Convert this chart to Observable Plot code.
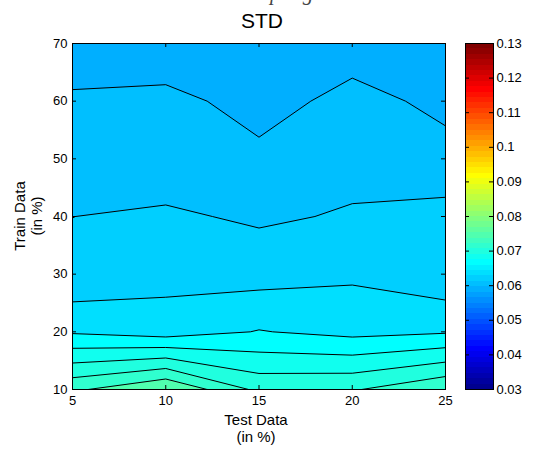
<!DOCTYPE html>
<html><head><meta charset="utf-8">
<script src="https://cdn.jsdelivr.net/npm/d3@7"></script>
<script src="https://cdn.jsdelivr.net/npm/@observablehq/plot@0.6"></script>
<style>
body{margin:0;background:#fff;}
#wrap{position:relative;width:537px;height:449px;overflow:hidden;font-family:"Liberation Sans",Arial,sans-serif;color:#000;}
#wrap svg{position:absolute;top:0;}
.lbl{position:absolute;white-space:nowrap;text-align:center;}
</style></head><body>
<div id="wrap">
  <div class="lbl" style="left:86px;top:-19px;width:300px;font:italic 21px 'Liberation Serif',serif;color:#444;">Random Sampling</div>
  <div class="lbl" style="left:162px;top:10px;width:200px;font-size:21px;line-height:21px;">STD</div>
  <div class="lbl" style="left:156px;top:411px;width:200px;font-size:15px;line-height:17px;">Test Data<br>(in %)</div>
  <div class="lbl" style="left:-72px;top:199px;width:200px;font-size:15px;line-height:17px;transform:rotate(-90deg);">Train Data<br>(in %)</div>
</div>
<script>
// Test data (in %) along x, train data (in %) along y
const testData = [5, 10, 15, 20, 25];
const trainData = [70, 60, 50, 40, 30, 20, 10];
// STD values, one array per train-data level (columns follow testData)
const std70 = [0.0592, 0.0590, 0.0590, 0.0594, 0.0591];
const std60 = [0.0602, 0.0604, 0.0595, 0.0604, 0.0597];
const std50 = [0.0611, 0.0608, 0.0603, 0.0613, 0.0604];
const std40 = [0.06199, 0.0623, 0.0617, 0.0622, 0.0628];
const std30 = [0.06237, 0.06332, 0.0632, 0.06367, 0.06253];
const std20 = [0.06576, 0.06502, 0.0661, 0.06542, 0.0658];
const std10 = [0.0736, 0.0760, 0.0715, 0.0718, 0.0738];
// contour levels (first = data minimum, fills the lowest region)
const levels = [0.059, 0.060, 0.062, 0.064, 0.066, 0.068, 0.070, 0.072, 0.074];
// tick labels
const xTicks = [5, 10, 15, 20, 25];
const yTicks = [10, 20, 30, 40, 50, 60, 70];
const cTicks = [0.03, 0.04, 0.05, 0.06, 0.07, 0.08, 0.09, 0.10, 0.11, 0.12, 0.13];
const cRange = [0.03, 0.13];

// MATLAB jet(64) colormap
function jet64(t) {
  const i = Math.max(1, Math.min(64, Math.floor(t * 64) + 1));
  const r = i < 25 ? 0 : i <= 40 ? (i - 24) / 16 : i <= 56 ? 1 : (72 - i) / 16;
  const g = i < 9 ? 0 : i <= 24 ? (i - 8) / 16 : i <= 40 ? 1 : i <= 55 ? (56 - i) / 16 : 0;
  const b = i <= 8 ? (i + 8) / 16 : i <= 24 ? 1 : i <= 39 ? (40 - i) / 16 : 0;
  return d3.rgb(r * 255, g * 255, b * 255).formatHex();
}
const colorScale = {type: "linear", domain: cRange, interpolate: jet64};

const rows = [std70, std60, std50, std40, std30, std20, std10];
const grid = rows.flat();
const dx = (testData[1] - testData[0]) / 2;
const dy = (trainData[0] - trainData[1]) / 2;

const font = {fontFamily: "'Liberation Sans', Arial, sans-serif", fontSize: "13px", color: "#000", background: "transparent"};

const main = Plot.plot({
  width: 537, height: 449,
  marginLeft: 72, marginRight: 92, marginTop: 43, marginBottom: 60,
  style: font,
  x: {domain: [testData[0], testData[testData.length - 1]], ticks: xTicks, tickSize: 0, tickPadding: 6, label: null},
  y: {domain: [trainData[trainData.length - 1], trainData[0]], ticks: yTicks, tickSize: 0, tickPadding: 5, label: null},
  color: colorScale,
  marks: [
    Plot.contour(grid, {
      width: testData.length, height: trainData.length,
      x1: testData[0] - dx, x2: testData[testData.length - 1] + dx,
      y1: trainData[0] + dy, y2: trainData[trainData.length - 1] - dy,
      fill: Plot.identity, stroke: "black", strokeWidth: 1,
      thresholds: levels, clip: true
    }),
    Plot.tickX(xTicks, {x: d => d, stroke: "black", insetTop: 342}),
    Plot.tickX(xTicks, {x: d => d, stroke: "black", insetBottom: 342}),
    Plot.tickY(yTicks, {y: d => d, stroke: "black", insetRight: 369}),
    Plot.tickY(yTicks, {y: d => d, stroke: "black", insetLeft: 369}),
    Plot.frame({stroke: "black"})
  ]
});
main.style.left = "0px";
document.getElementById("wrap").appendChild(main);

// colorbar: one rect per colormap entry
const entries = d3.range(64);
const step = (cRange[1] - cRange[0]) / 64;
const cbar = Plot.plot({
  width: 72, height: 449,
  marginLeft: 0, marginRight: 44, marginTop: 43, marginBottom: 60,
  style: font,
  x: {domain: [0, 1], axis: null},
  y: {domain: cRange, ticks: cTicks, tickFormat: d => String(+d.toFixed(2)), tickSize: 0, tickPadding: 3, axis: "right", label: null},
  color: colorScale,
  marks: [
    Plot.rect(entries, {x1: 0, x2: 1, y1: i => cRange[0] + i * step, y2: i => cRange[0] + (i + 1) * step, fill: i => cRange[0] + (i + 0.5) * step, shapeRendering: "crispEdges"}),
    Plot.tickY(cTicks, {y: d => d, stroke: "black", insetRight: 24}),
    Plot.tickY(cTicks, {y: d => d, stroke: "black", insetLeft: 24}),
    Plot.frame({stroke: "black"})
  ]
});
cbar.style.left = "465px";
document.getElementById("wrap").appendChild(cbar);
</script>
</body></html>
